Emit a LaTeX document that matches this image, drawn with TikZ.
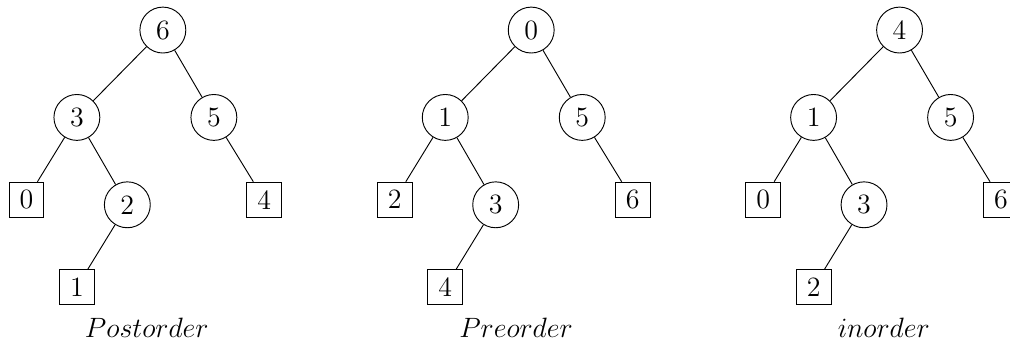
\documentclass[tikz,border=0pt]{standalone}
\usetikzlibrary{positioning}
\begin{document}
\begin{tikzpicture}[font=\large,
  level distance=37.5pt,
  level 1/.style={sibling distance=58.8pt},
  level 2/.style={sibling distance=43.3pt},
  level 3/.style={sibling distance=43.3pt},
  nodo/.style={circle,draw,minimum size=19.7pt,inner sep=0pt},
  hoja/.style={rectangle,draw,minimum size=15pt,inner sep=0pt},
  titulo/.style={anchor=base}]
\useasboundingbox (0,0) rectangle (433.5pt,-147.6pt);
% Postorder
\node [nodo] (pa) at (69.9pt,-12.9pt) {6}
  child [xshift=-7.5pt] {node [nodo] (pb) {3}
    child {node [hoja,yshift=2.2pt] (pc) {0}}
    child {node [nodo] (pd) {2}
        child {node [hoja,yshift=2.2pt] (pe) {1}}
        child [missing]
    }
  }
  child [xshift=-7.5pt] {node [nodo] (pf) {5}
    child [missing]
    child {node [hoja,yshift=2.2pt] (pg) {4}}
  };
\node [titulo] (ptit) at (63pt,-145pt) {$Postorder$};
% Preorder
\node [nodo] (ra) at (228pt,-12.9pt) {0}
  child [xshift=-7.5pt] {node [nodo] (rb) {1}
    child {node [hoja,yshift=2.2pt] (rc) {2}}
    child {node [nodo] (rd) {3}
        child {node [hoja,yshift=2.2pt] (re) {4}}
        child [missing]
    }
  }
  child [xshift=-7.5pt] {node [nodo] (rf) {5}
    child [missing]
    child {node [hoja,yshift=2.2pt] (rg) {6}}
  };
\node [titulo] (rtit) at (221.5pt,-145pt) {$Preorder$};
% inorder
\node [nodo] (ia) at (386.1pt,-12.9pt) {4}
  child [xshift=-7.5pt] {node [nodo] (ib) {1}
    child {node [hoja,yshift=2.2pt] (ic) {0}}
    child {node [nodo] (id) {3}
        child {node [hoja,yshift=2.2pt] (ie) {2}}
        child [missing]
    }
  }
  child [xshift=-7.5pt] {node [nodo] (if) {5}
    child [missing]
    child {node [hoja,yshift=2.2pt] (ig) {6}}
  };
\node [titulo] (itit) at (379.3pt,-145pt) {$inorder$};
\end{tikzpicture}
\end{document}
